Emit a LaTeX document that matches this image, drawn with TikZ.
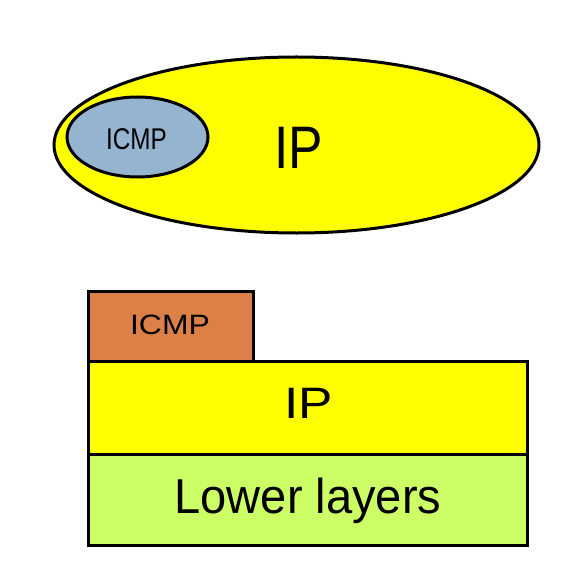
\documentclass[tikz,border=0pt]{standalone}
\usepackage{fontspec}
\setmainfont{Liberation Sans}
\usetikzlibrary{positioning}
\usetikzlibrary{shapes.geometric}

\definecolor{ipyellow}{RGB}{255,255,0}
\definecolor{icmpblue}{RGB}{148,180,207}
\definecolor{icmporange}{RGB}{221,128,72}
\definecolor{lowgreen}{RGB}{204,255,102}

% text of a given size, stretched sideways
\newcommand{\sqtext}[3]{\scalebox{#2}[1]{\fontsize{#1}{#1}\selectfont #3}}

\begin{document}
\begin{tikzpicture}[
    x = 1pt,
    y = -1pt,
    node distance = 0pt,
    ]

    \tikzstyle{every node}=[
    outer sep = 0pt,
    inner sep = 0pt,
    ]
    \tikzstyle{blob}=[
    ellipse,
    draw = black,
    line width = 3pt,
    ]
    \tikzstyle{layer}=[
    rectangle,
    draw = black,
    line width = 3pt,
    minimum width = 439pt,
    ]

    \useasboundingbox (0,0) rectangle (577,588);

    % nested view
    \node[blob, fill=ipyellow, minimum width=485pt, minimum height=176pt] (ipblob) at (296.5,145) {};
    \node[blob, fill=icmpblue, minimum width=141pt, minimum height=80pt] (icmpblob) at (137.5,137) {};
    \node[anchor=base] (ipblobtext) at (298.5,168.3) {\sqtext{60pt}{0.86}{IP}};
    \node[anchor=base] (icmpblobtext) at (136.5,149.3) {\sqtext{30pt}{0.81}{ICMP}};

    % layered view
    \node[layer, fill=ipyellow, minimum height=93pt] (iplayer) at (307.5,407.5) {};
    \node[layer, fill=lowgreen, minimum height=91pt] (lowlayer) [below=of iplayer] {};
    \node[layer, fill=icmporange, minimum width=165pt, minimum height=70pt,
          anchor=south west] (icmplayer) at (iplayer.north west) {};
    \node[anchor=base] (iplayertext) at (309,418.3) {\sqtext{44pt}{1.17}{IP}};
    \node[anchor=base] (lowlayertext) at (308,513) {\sqtext{49pt}{0.96}{Lower layers}};
    \node[anchor=base] (icmplayertext) at (170,334.7) {\sqtext{28pt}{1.14}{ICMP}};
  \end{tikzpicture}
\end{document}
